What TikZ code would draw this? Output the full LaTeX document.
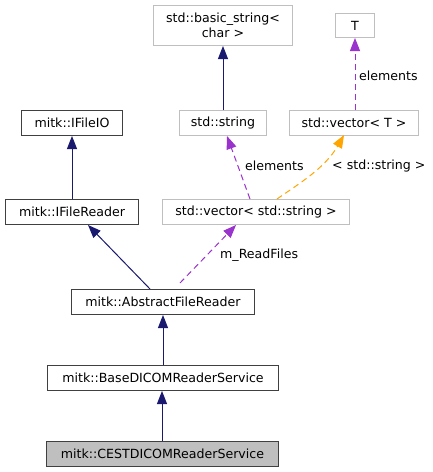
\documentclass[tikz,border=0pt]{standalone}
\usepackage{fontspec}
\setmainfont{DejaVu Sans}
\usetikzlibrary{arrows.meta}
\definecolor{navy}{HTML}{191970}
\definecolor{purp}{HTML}{9A32CD}
\definecolor{orng}{HTML}{FFA500}
\definecolor{gbord}{HTML}{BFBFBF}
\definecolor{bbord}{HTML}{404040}
\begin{document}
\begin{tikzpicture}[x=1pt,y=-1pt,
  txt/.style={font=\fontsize{12.6}{14.5}\selectfont},
  box/.style={txt,draw=bbord,line width=1pt,inner sep=0pt,anchor=north west},
  gbox/.style={txt,draw=gbord,line width=1pt,inner sep=0pt,anchor=north west,align=center},
  lbl/.style={txt,inner sep=0pt},
  tip/.style={-{Triangle[length=13pt,width=10pt]}},
  inh/.style={tip,draw=navy,line width=1pt},
  use/.style={tip,draw=purp,line width=1pt,dash pattern=on 6pt off 4pt},
  tmpl/.style={tip,draw=orng,line width=1pt,dash pattern=on 6pt off 4pt}]
\useasboundingbox (0,0) rectangle (432,472);
% nodes
\node[gbox,minimum width=139pt,minimum height=40pt] (bs) at (153,5) {std::basic\_string<\\char >};
\node[gbox,minimum width=39pt,minimum height=24pt] (T) at (335,13) {T};
\node[box,minimum width=101pt,minimum height=25pt] (io) at (21,110) {mitk::IFileIO};
\node[gbox,minimum width=87pt,minimum height=25pt] (str) at (179,110) {std::string};
\node[gbox,minimum width=129pt,minimum height=25pt] (vT) at (289,110) {std::vector< T >};
\node[box,minimum width=133pt,minimum height=25pt] (fr) at (5,199) {mitk::IFileReader};
\node[gbox,minimum width=187pt,minimum height=25pt] (vs) at (162,199) {std::vector< std::string >};
\node[box,minimum width=183pt,minimum height=25pt] (afr) at (71,289) {mitk::AbstractFileReader};
\node[box,minimum width=231pt,minimum height=25pt] (base) at (47,365) {mitk::BaseDICOMReaderService};
\node[box,fill=gbord,minimum width=232pt,minimum height=25pt] (cest) at (46,441) {mitk::CESTDICOMReaderService};
% edges
\draw[inh] (fr.north -| io.south) -- (io.south);
\draw[inh] (str.north -| bs.south) -- (bs.south);
\draw[use] (vT.north -| T.south) -- (T.south);
\node[lbl,anchor=west] (l1) at (359,76) {elements};
\draw[use] (250,199) -- (str.south -| 227,0);
\node[lbl,anchor=west] (l2) at (245,166) {elements};
\draw[tmpl] (277,199) .. controls (300,183) and (325,168) .. (344,135);
\node[lbl,anchor=west] (l3) at (332,166) {< std::string >};
\draw[inh] (150,289) -- (88,225);
\draw[use] (180,283) -- (236,225);
\node[lbl,anchor=west] (l4) at (220,255) {m\_ReadFiles};
\draw[inh] (base.north -| afr.south) -- (afr.south);
\draw[inh] (cest.north -| 162,0) -- (base.south -| 162,0);
\end{tikzpicture}
\end{document}
